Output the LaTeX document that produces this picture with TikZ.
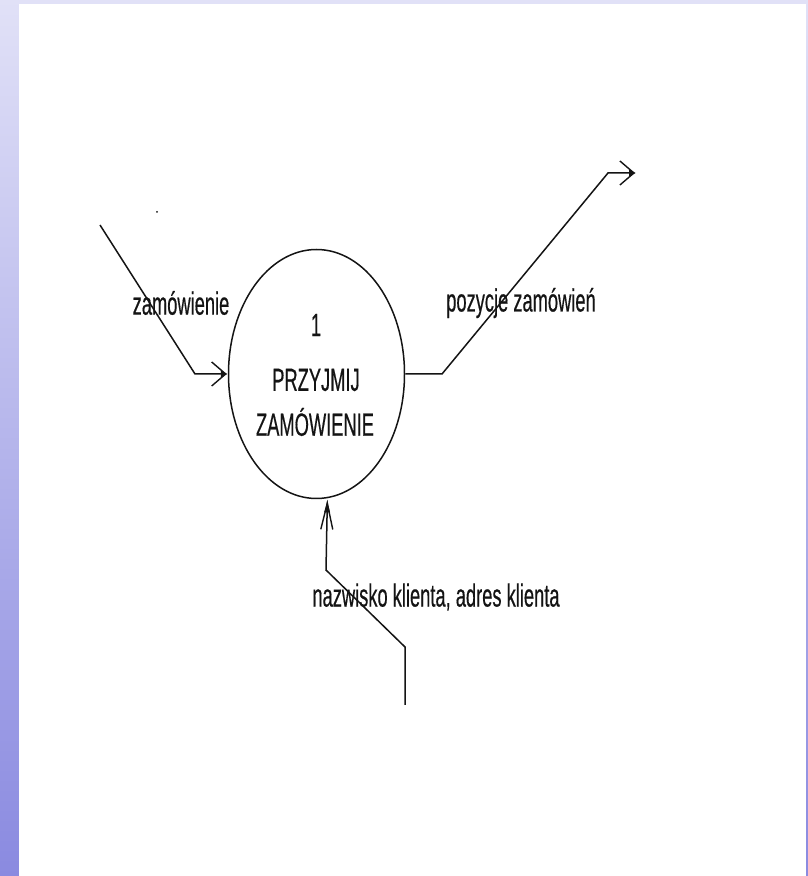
\documentclass[tikz,border=0pt]{standalone}
\usepackage{fontspec}
\setmainfont{Liberation Sans}
\newfontfamily\lblfont[FakeBold=0.6]{Liberation Sans}
\usetikzlibrary{arrows.meta,shapes.geometric}
\definecolor{bgtop}{RGB}{225,225,247}
\definecolor{bgbot}{RGB}{138,138,224}
\definecolor{ink}{RGB}{20,20,20}
\begin{document}
\begin{tikzpicture}[x=1pt,y=1pt,
  hflow/.style={line width=1.5pt,draw=ink,-{Straight Barb[length=14pt,width=24pt,line width=1.4pt,sep=-6pt]Latex[length=7pt,width=8pt]}},
  vflow/.style={line width=1.5pt,draw=ink,-{Straight Barb[length=26pt,width=12pt,line width=1.4pt,sep=-12pt]Latex[length=14pt,width=6pt]}},
  lbl/.style={font=\lblfont\fontsize{18.3}{20}\selectfont,inner sep=0pt,text=ink}]
\shade[top color=bgtop,bottom color=bgbot] (0,0) rectangle (808,876);
\fill[white] (19,0) rectangle (806,872);
\useasboundingbox (0,0) rectangle (808,876);
% process
\node[ellipse,draw=ink,line width=1.5pt,minimum width=176pt,minimum height=249pt,inner sep=0pt] (proc) at (316.5,502) {};
\node[lbl] (pnum) at (316,551) {\scalebox{1}[1.75]{1}};
\node[lbl] (pl1) at (316,496) {\scalebox{1}[1.75]{PRZYJMIJ}};
\node[lbl] (pl2) at (315,454) {\scalebox{1}[1.75]{ZAMÓWIENIE}};
% incoming from left
\coordinate (a0) at (100,651);
\coordinate (a1) at (195,502);
\draw[hflow] (a0) -- (a1) -- (proc.west);
\node[lbl] (la) at (181,573) {\scalebox{1}[1.75]{zamówienie}};
% outgoing to right
\coordinate (b1) at (442,502);
\coordinate (b2) at (608,703);
\coordinate (b3) at (636,703);
\draw[hflow] (proc.east) -- (b1) -- (b2) -- (b3);
\node[lbl] (lb) at (521,573) {\scalebox{1}[1.75]{pozycje zamówień}};
% incoming from bottom
\coordinate (c0) at (405,171);
\coordinate (c1) at (405,229);
\coordinate (c2) at (326,306);
\draw[vflow] (c0) -- (c1) -- (c2) -- (proc.-85.7);
\node[lbl] (lc) at (436,279) {\scalebox{1}[1.75]{nazwisko klienta, adres klienta}};
% speck
\fill[ink] (157,664) circle (1pt);
\end{tikzpicture}
\end{document}
